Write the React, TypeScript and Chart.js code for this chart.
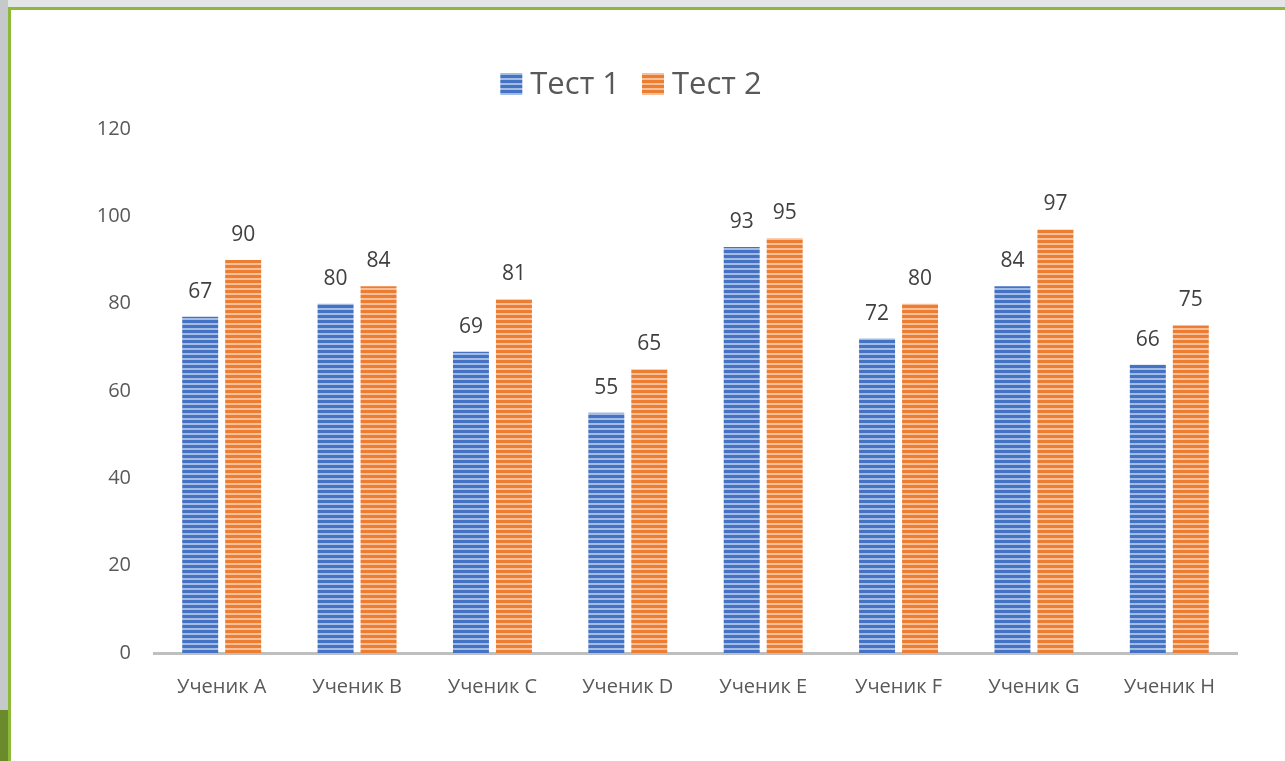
import React, { useEffect, useRef } from "react";
import { Chart, registerables } from "chart.js";

Chart.register(...registerables);

const categories = ["Ученик A", "Ученик B", "Ученик C", "Ученик D", "Ученик E", "Ученик F", "Ученик G", "Ученик H"];
const test1Values = [77, 80, 69, 55, 93, 72, 84, 66];
const test1Labels = ["67", "80", "69", "55", "93", "72", "84", "66"];
const test2Values = [90, 84, 81, 65, 95, 80, 97, 75];
const test2Labels = ["90", "84", "81", "65", "95", "80", "97", "75"];
const seriesNames = ["Тест 1", "Тест 2"];
const yTicks = [0, 20, 40, 60, 80, 100, 120];

const FONT = "'Open Sans', 'DejaVu Sans', sans-serif";

function makeStripe(dark: string, light: string): CanvasPattern | string {
  const c = document.createElement("canvas");
  c.width = 4;
  c.height = 5;
  const ctx = c.getContext("2d");
  if (!ctx) return dark;
  ctx.fillStyle = dark;
  ctx.fillRect(0, 0, 4, 5);
  ctx.fillStyle = light;
  ctx.fillRect(0, 3, 4, 2);
  const p = ctx.createPattern(c, "repeat");
  return p || dark;
}

const labelPlugin = {
  id: "valueLabels",
  afterDatasetsDraw(chart: any) {
    const ctx = chart.ctx;
    const lbls = [test1Labels, test2Labels];
    ctx.save();
    ctx.font = `21px ${FONT}`;
    ctx.fillStyle = "#404040";
    ctx.textAlign = "center";
    ctx.textBaseline = "middle";
    chart.data.datasets.forEach((_: any, di: number) => {
      const meta = chart.getDatasetMeta(di);
      meta.data.forEach((bar: any, i: number) => {
        ctx.fillText(lbls[di][i], bar.x, bar.y - 25);
      });
    });
    ctx.restore();
  },
};

const legendPlugin = {
  id: "customLegend",
  afterDraw(chart: any) {
    const ctx = chart.ctx;
    ctx.save();
    ctx.font = `31px ${FONT}`;
    ctx.textBaseline = "middle";
    ctx.textAlign = "left";
    const box = 22;
    const gap = 8;
    const itemGap = 22;
    const widths = chart.data.datasets.map((d: any) => box + gap + ctx.measureText(d.label).width);
    const total = widths.reduce((a: number, b: number) => a + b, 0) + itemGap * (widths.length - 1);
    let x = 631 - total / 2;
    const cy = 84;
    chart.data.datasets.forEach((d: any, i: number) => {
      ctx.fillStyle = d.backgroundColor;
      ctx.fillRect(x, cy - box / 2, box, box);
      ctx.fillStyle = "#595959";
      ctx.fillText(d.label, x + box + gap, cy + 1);
      x += widths[i] + itemGap;
    });
    ctx.restore();
  },
};

export default function App() {
  const ref = useRef<HTMLCanvasElement>(null);
  useEffect(() => {
    if (!ref.current) return;
    const blue = makeStripe("#4472c4", "#a4bbe4");
    const orange = makeStripe("#ed7d31", "#f7c09a");
    const chart = new Chart(ref.current, {
      type: "bar",
      data: {
        labels: categories,
        datasets: [
          { label: seriesNames[0], data: test1Values, backgroundColor: blue as any, borderWidth: 0 },
          { label: seriesNames[1], data: test2Values, backgroundColor: orange as any, borderWidth: 0 },
        ],
      },
      options: {
        animation: false,
        responsive: false,
        maintainAspectRatio: false,
        events: [],
        layout: { padding: { left: 0, right: 48, top: 129, bottom: 40 } },
        datasets: { bar: { categoryPercentage: 0.635, barPercentage: 0.837 } },
        plugins: {
          tooltip: { enabled: false },
          legend: { display: false },
        },
        scales: {
          x: {
            grid: { display: false, drawTicks: false },
            border: { display: true, color: "#bfbfbf", width: 3 },
            ticks: { font: { family: FONT, size: 20 }, color: "#595959", padding: 22 },
          },
          y: {
            min: 0,
            max: 120,
            afterFit(scale: any) {
              scale.width = 154;
            },
            afterBuildTicks(scale: any) {
              scale.ticks = yTicks.map((v) => ({ value: v }));
            },
            grid: { display: false, drawTicks: false },
            border: { display: false },
            ticks: { font: { family: FONT, size: 20 }, color: "#595959", padding: 23 },
          },
        },
      },
      plugins: [labelPlugin, legendPlugin],
    });
    return () => chart.destroy();
  }, []);

  return (
    <div style={{ position: "absolute", left: 0, top: 0, width: 1285, height: 761, background: "#e3e6e4", overflow: "hidden" }}>
      <div style={{ position: "absolute", left: 0, top: 0, width: 8, height: 761, background: "#c5c9c9" }} />
      <div style={{ position: "absolute", left: 0, top: 710, width: 8, height: 51, background: "#6b8a2b" }} />
      <div style={{ position: "absolute", left: 8, top: 7, width: 1277, height: 754, background: "#ffffff", borderTop: "3px solid #8db83a", borderLeft: "3px solid #8db83a", boxSizing: "border-box" }} />
      <canvas ref={ref} width={1285} height={761} style={{ position: "absolute", left: 0, top: 0 }} />
    </div>
  );
}
